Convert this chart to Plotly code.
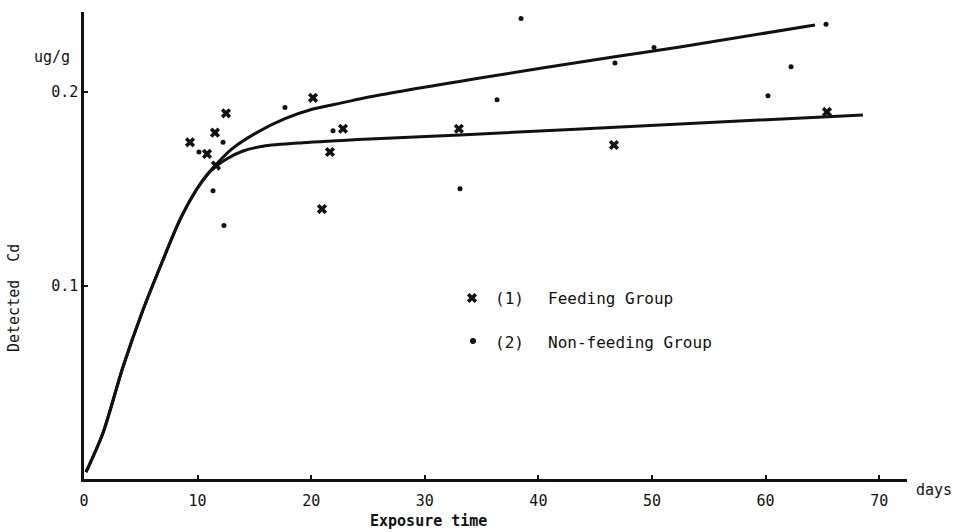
import plotly.graph_objects as go

# ---- data ----
feed_days = [9.33, 10.83, 11.53, 12.50, 11.62, 20.16, 20.95, 21.65, 22.8, 33.0, 46.65, 65.4]
feed_cd = [0.174, 0.168, 0.179, 0.189, 0.162, 0.197, 0.1395, 0.169, 0.181, 0.181, 0.1726, 0.1897]

nonfeed_days = [10.12, 11.36, 12.24, 12.32, 17.69, 21.92, 33.10, 36.36, 38.47, 46.74,
                50.18, 52.02, 60.21, 62.24, 65.32]
nonfeed_cd = [0.169, 0.149, 0.174, 0.131, 0.192, 0.180, 0.150, 0.196, 0.238, 0.215,
              0.223, 0.243, 0.198, 0.213, 0.235]

# shared initial rise of both fitted curves
rise_days = [0.18, 1.67, 3.43, 5.19, 6.87, 8.45, 9.95, 11.1]
rise_cd = [0.0036, 0.0238, 0.0579, 0.0873, 0.112, 0.134, 0.150, 0.159]

# non-feeding curve (upper) after the split
upper_days = [13.0, 15.05, 17.69, 20.16, 22.8, 25.18, 34.86, 46.57, 52.46, 64.35]
upper_cd = [0.1705, 0.1785, 0.1862, 0.1912, 0.1945, 0.1975, 0.2072, 0.2181, 0.2233, 0.2346]

# feeding curve (lower) after the split
lower_days = [12.59, 14.0, 15.76, 19.28, 25.18, 33.1, 52.46, 68.57]
lower_cd = [0.1655, 0.1695, 0.172, 0.1738, 0.1757, 0.1778, 0.1835, 0.1881]

x_ticks = [0, 10, 20, 30, 40, 50, 60, 70]
x_ticklabels = ["0", "10", "20", "30", "40", "50", "60", "70"]
y_ticks = [0.1, 0.2]
y_ticklabels = ["0.1", "0.2"]

legend_labels = ["(1)", "(2)"]
legend_names = ["Feeding Group", "Non-feeding Group"]

# ---- layout geometry (pixels) ----
W, H = 959, 532
L, R, T, B = 84, 907, 12, 479
PW, PH = R - L, B - T


def px_x(p):
    return (p - L) / PW


def px_y(p):
    return (B - p) / PH


FONT = "DejaVu Sans Mono"
INK = "#111111"

fig = go.Figure()

fig.add_trace(go.Scatter(
    x=rise_days + upper_days, y=rise_cd + upper_cd, mode="lines",
    line=dict(color=INK, width=3, shape="spline", smoothing=0.8),
    showlegend=False, hoverinfo="skip"))
fig.add_trace(go.Scatter(
    x=rise_days + lower_days, y=rise_cd + lower_cd, mode="lines",
    line=dict(color=INK, width=3, shape="spline", smoothing=0.8),
    showlegend=False, hoverinfo="skip"))

fig.add_trace(go.Scatter(
    x=feed_days, y=feed_cd, mode="markers", name=legend_names[0],
    marker=dict(symbol="x", size=9, color=INK, line=dict(width=0)),
    showlegend=False))
fig.add_trace(go.Scatter(
    x=nonfeed_days, y=nonfeed_cd, mode="markers", name=legend_names[1],
    marker=dict(symbol="circle", size=5, color=INK, line=dict(width=0)),
    showlegend=False))

# legend symbols on an invisible overlay axis spanning the plot area
fig.add_trace(go.Scatter(
    x=[px_x(472)], y=[px_y(298)], xaxis="x2", yaxis="y2", mode="markers",
    marker=dict(symbol="x", size=9, color=INK, line=dict(width=0)),
    showlegend=False, hoverinfo="skip"))
fig.add_trace(go.Scatter(
    x=[px_x(473)], y=[px_y(341)], xaxis="x2", yaxis="y2", mode="markers",
    marker=dict(symbol="circle", size=6, color=INK, line=dict(width=0)),
    showlegend=False, hoverinfo="skip"))

annotations = []


def ann(text, x, y, size=15, xanchor="center", yanchor="middle", angle=0):
    annotations.append(dict(
        text=text, x=px_x(x), y=px_y(y), xref="paper", yref="paper",
        showarrow=False, xanchor=xanchor, yanchor=yanchor, textangle=angle,
        font=dict(family=FONT, size=size, color=INK)))


ann("ug/g", 52, 57)
ann("Detected  Cd", 14, 298, size=15, angle=-90)
ann("<b>Exposure time</b>", 428, 521, size=15)
ann("days", 934, 490, size=15)
ann(legend_labels[0], 493, 298, size=16, xanchor="left")
ann(legend_names[0], 546, 298, size=16, xanchor="left")
ann(legend_labels[1], 493, 342, size=16, xanchor="left")
ann(legend_names[1], 546, 342, size=16, xanchor="left")

fig.update_layout(
    width=W, height=H,
    margin=dict(l=L, r=W - R, t=T, b=H - B, pad=0),
    paper_bgcolor="white", plot_bgcolor="white",
    font=dict(family=FONT, size=15, color=INK),
    showlegend=False,
    annotations=annotations,
    xaxis=dict(
        range=[0, 72.45], showgrid=False, zeroline=False,
        showline=True, linecolor=INK, linewidth=2.5,
        tickmode="array", tickvals=x_ticks, ticktext=x_ticklabels,
        ticks="inside", ticklen=4, tickwidth=2, tickcolor=INK,
        tickfont=dict(family=FONT, size=15, color=INK),
        ticklabelstandoff=6,
    ),
    yaxis=dict(
        range=[0, PH / 1935.0], showgrid=False, zeroline=False,
        showline=True, linecolor=INK, linewidth=2.5,
        tickmode="array", tickvals=y_ticks, ticktext=y_ticklabels,
        ticks="inside", ticklen=4, tickwidth=2, tickcolor=INK,
        tickfont=dict(family=FONT, size=15, color=INK),
    ),
    xaxis2=dict(range=[0, 1], overlaying="x", visible=False),
    yaxis2=dict(range=[0, 1], overlaying="y", visible=False),
)

fig.write_html("out.html",
               config={"displayModeBar": False},
               post_script="document.body.style.margin='0';document.body.style.overflow='hidden';")
